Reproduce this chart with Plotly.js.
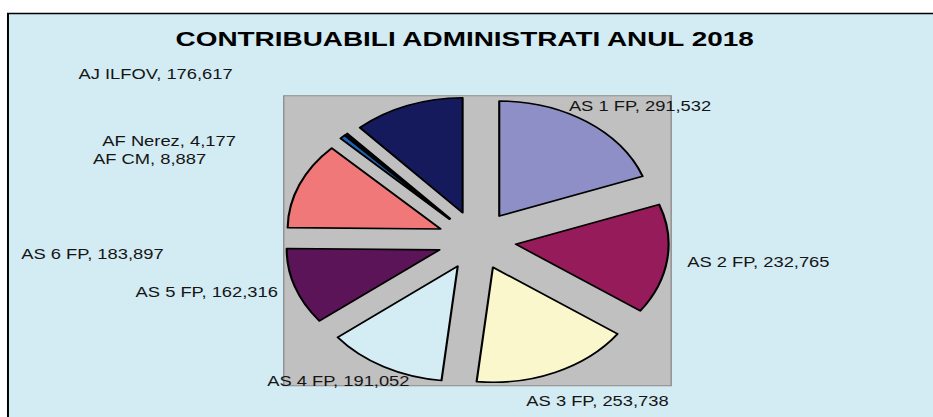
<!DOCTYPE html>
<html><head><meta charset="utf-8">
<script src="https://cdn.plot.ly/plotly-3.0.1.min.js"></script>
<style>
html,body{margin:0;padding:0;background:#fff;overflow:hidden;width:933px;height:417px}
#chart{width:702px;height:417px;transform:scaleX(1.3291);transform-origin:0 0}
</style>
</head><body><div id="chart"></div>
<script>
// ---- data ----
const categories = ['AS 1 FP','AS 2 FP','AS 3 FP','AS 4 FP','AS 5 FP','AS 6 FP','AF CM','AF Nerez','AJ ILFOV'];
const values = [291532,232765,253738,191052,162316,183897,8887,4177,176617];
const chartTitle = 'CONTRIBUABILI ADMINISTRATI ANUL 2018';

// ---- styles / layout ----
const sliceColors = ['#8f8fc8','#961b5b','#faf7cd','#d4edf4','#5c1458','#f07878','#1f62b4','#0a0a1a','#141a5c'];
const labelPos = [[426,107],[515,262],[394,401],[199,381],[100,292],[14,254],[68,159],[75,141],[57,74]];
const W = 702, H = 417;
const px = x => x / W, py = y => 1 - y / H;
const FONT = 'Liberation Sans, Arial, sans-serif';

const annotations = categories.map((c, i) => ({
  text: c + ', ' + values[i].toLocaleString('en-US'),
  xref: 'paper', yref: 'paper',
  x: px(labelPos[i][0]), y: py(labelPos[i][1]),
  xanchor: 'left', yanchor: 'middle', showarrow: false,
  font: {family: FONT, size: 13.8, color: '#151515'}
}));

const trace = {
  type: 'pie', labels: categories, values: values,
  sort: false, direction: 'clockwise', rotation: 0,
  pull: 0.257,
  marker: {colors: sliceColors, line: {color: '#000', width: 1.6}},
  textinfo: 'none', hoverinfo: 'label+value',
  domain: {x: [0.283, 0.739], y: [0.077, 0.7704]},
  showlegend: false
};

const layout = {
  width: W, height: H,
  margin: {l: 0, r: 0, t: 0, b: 0},
  paper_bgcolor: '#ffffff',
  showlegend: false,
  title: {
    text: '<b>' + chartTitle + '</b>',
    font: {family: FONT, size: 21, color: '#000'},
    xref: 'paper', yref: 'paper',
    x: px(349.6), xanchor: 'center',
    y: py(38.5), yanchor: 'middle'
  },
  shapes: [
    {type: 'rect', xref: 'paper', yref: 'paper', layer: 'below',
     x0: px(6), x1: 1.05, y0: -0.05, y1: py(13.5),
     fillcolor: '#d3ebf3', line: {color: '#000', width: 1.5}},
    {type: 'rect', xref: 'paper', yref: 'paper', layer: 'below',
     x0: px(213.5), x1: px(505), y0: py(385.7), y1: py(95.7),
     fillcolor: '#c0c0c0', line: {color: '#8a8a8a', width: 1}}
  ],
  annotations: annotations
};

Plotly.newPlot('chart', [trace], layout, {displayModeBar: false, staticPlot: true});
</script>
</body></html>
